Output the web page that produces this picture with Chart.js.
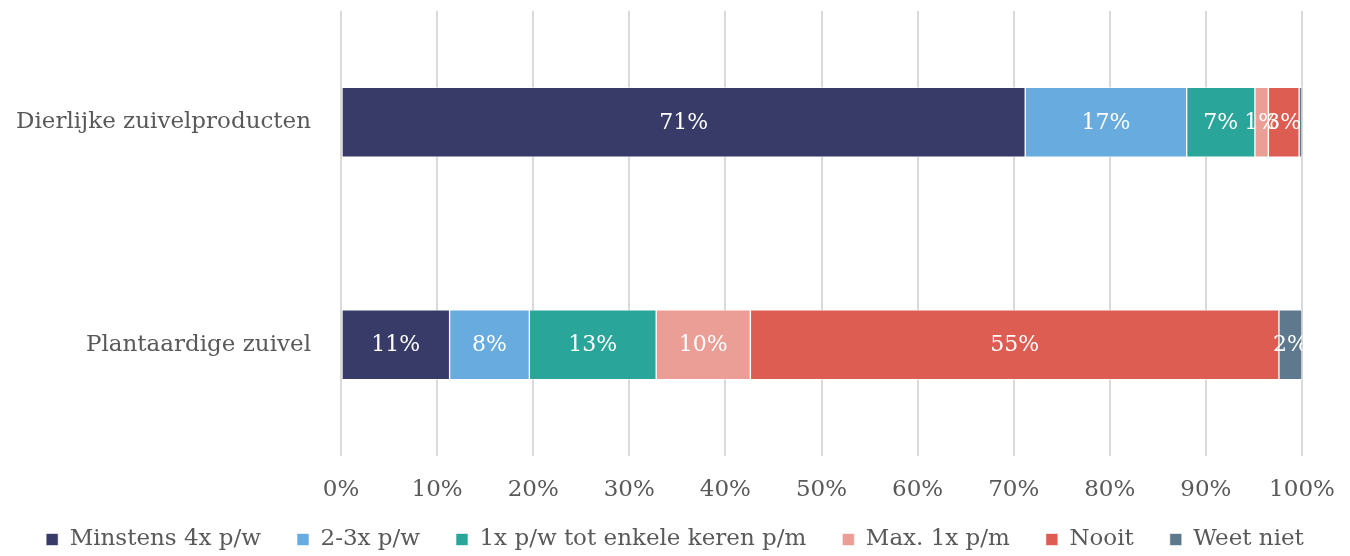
<!DOCTYPE html>
<html>
<head>
<meta charset="utf-8">
<script src="https://cdn.jsdelivr.net/npm/chart.js@4/dist/chart.umd.min.js"></script>
<style>
  html, body { margin: 0; padding: 0; background: #fff; }
  #wrap { width: 1350px; height: 556px; }
</style>
</head>
<body>
<div id="wrap"><canvas id="chart"></canvas></div>
<script>
// Data
const categories = ['Dierlijke zuivelproducten', 'Plantaardige zuivel'];
const seriesNames = ['Minstens 4x p/w', '2-3x p/w', '1x p/w tot enkele keren p/m', 'Max. 1x p/m', 'Nooit', 'Weet niet'];
const minstens4x = [71.2, 11.3];
const tweeDrieX = [16.8, 8.3];
const eenxTotEnkele = [7.1, 13.2];
const max1x = [1.4, 9.8];
const nooit = [3.2, 55.0];
const weetNiet = [0.3, 2.4];
const seriesColors = ['#383b67', '#67abdf', '#2aa59a', '#ea9e96', '#de5d52', '#5e788e'];
const xTicks = [0, 10, 20, 30, 40, 50, 60, 70, 80, 90, 100];

const fontFamily = '"DejaVu Serif", serif';
const textColor = '#595959';

// Percentage labels in the middle of each segment, clipped to the plot area
const barLabels = {
  id: 'barLabels',
  beforeLayout(chart) {
    // keep the wide legend spacing without the tall legend box
    const legend = chart.legend;
    if (legend && !legend._fixedFit) {
      const fit = legend.fit;
      legend.fit = function() {
        fit.apply(this, arguments);
        this.height = 64;
      };
      legend._fixedFit = true;
    }
  },
  afterDatasetsDraw(chart) {
    const ctx = chart.ctx;
    const area = chart.chartArea;
    ctx.save();
    ctx.beginPath();
    ctx.rect(area.left, area.top, area.right - area.left, area.bottom - area.top);
    ctx.clip();
    ctx.font = '22px ' + fontFamily;
    ctx.fillStyle = '#ffffff';
    ctx.textAlign = 'center';
    ctx.textBaseline = 'middle';
    chart.data.datasets.forEach((ds, i) => {
      const meta = chart.getDatasetMeta(i);
      meta.data.forEach((bar, j) => {
        const v = ds.data[j];
        if (v < 1) return;
        const cx = (bar.x + bar.base) / 2;
        ctx.fillText(Math.round(v) + '%', cx, bar.y + 1);
      });
    });
    ctx.restore();
  }
};

const allSeries = [minstens4x, tweeDrieX, eenxTotEnkele, max1x, nooit, weetNiet];

new Chart(document.getElementById('chart'), {
  type: 'bar',
  data: {
    labels: categories,
    datasets: allSeries.map((vals, i) => ({
      label: seriesNames[i],
      data: vals,
      backgroundColor: seriesColors[i],
      borderColor: 'rgba(255,255,255,0.6)',
      borderWidth: 1,
      borderSkipped: false,
      barThickness: 70
    }))
  },
  options: {
    indexAxis: 'y',
    responsive: true,
    maintainAspectRatio: false,
    animation: false,
    layout: {
      padding: { top: 11, right: 0, left: 0, bottom: 0 }
    },
    scales: {
      x: {
        stacked: true,
        min: 0,
        max: 100,
        afterBuildTicks: function(scale) {
          scale.ticks = xTicks.map(v => ({ value: v }));
        },
        afterFit: function(scale) {
          scale.height = 36;
          scale.paddingLeft = 0;
          scale.paddingRight = 48;
          // tick labels run a little below the short axis box
          scale._computeLabelArea = function() { return undefined; };
        },
        grid: {
          color: '#d9d9d9',
          lineWidth: 2,
          drawTicks: false
        },
        border: { display: false },
        ticks: {
          padding: 20,
          color: textColor,
          font: { family: fontFamily, size: 23 },
          callback: function(value) { return value + '%'; }
        }
      },
      y: {
        stacked: true,
        afterFit: function(scale) {
          scale.width = 341;
          scale.paddingTop = 0;
          scale.paddingBottom = 0;
        },
        grid: { display: false, drawTicks: false },
        border: { display: false },
        ticks: {
          padding: 30,
          color: textColor,
          font: { family: fontFamily, size: 23 }
        }
      }
    },
    plugins: {
      legend: {
        position: 'bottom',
        labels: {
          color: textColor,
          font: { family: fontFamily, size: 23 },
          boxWidth: 12,
          boxHeight: 12,
          padding: 36
        }
      },
      tooltip: { enabled: false }
    }
  },
  plugins: [barLabels]
});
</script>
</body>
</html>
